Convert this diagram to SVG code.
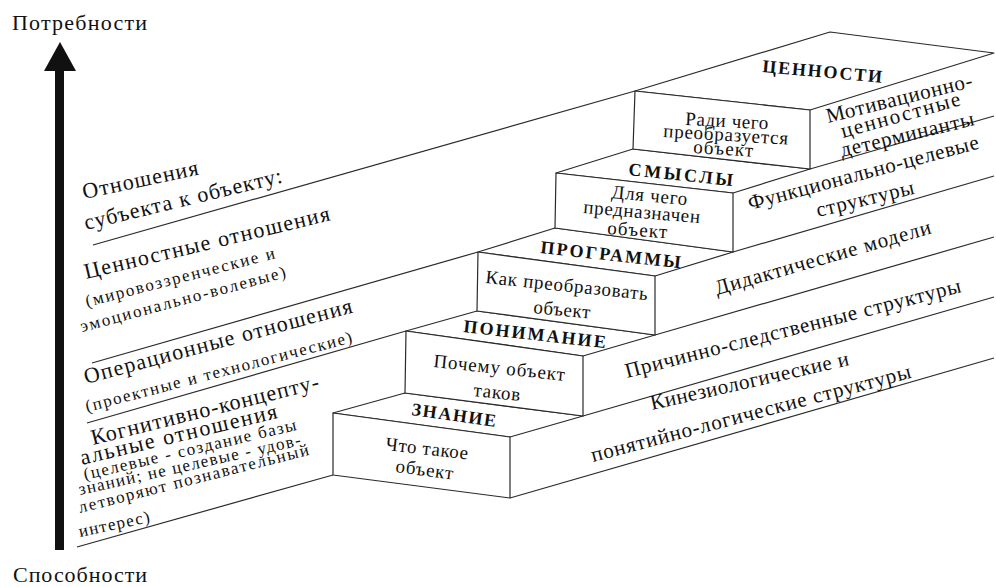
<svg xmlns="http://www.w3.org/2000/svg" width="996" height="587" viewBox="0 0 996 587" font-family="'Liberation Serif', 'Times New Roman', serif">
<style>
  .ln { stroke: #2a2a2a; stroke-width: 1.2; fill: none; }
  .face { stroke: #2a2a2a; stroke-width: 1.2; fill: #ffffff; stroke-linejoin: round; }
  .t { font-family: 'Liberation Serif', 'Times New Roman', serif; fill: #111111; }
  .big { font-size: 22px; }
  .small { font-size: 17px; }
  .rt { font-size: 21px; }
  .body { font-size: 19px; }
  .title { font-size: 18px; font-weight: bold; }
  .axis { font-size: 22px; }
</style>
<rect width="996" height="587" fill="#ffffff"/>

<g id="axis">
  <rect x="55" y="68" width="9" height="482" fill="#111"/>
  <polygon points="60,42 76,71 44,71" fill="#111"/>
  <text class="t axis" x="12" y="30" textLength="135" lengthAdjust="spacing">Потребности</text>
  <text class="t axis" x="13" y="582" textLength="134" lengthAdjust="spacing">Способности</text>
</g>

<g id="connectors">
  <line class="ln" x1="93" y1="245" x2="635" y2="91"/>
  <line class="ln" x1="92" y1="363" x2="478" y2="252"/>
  <line class="ln" x1="87" y1="423" x2="406" y2="331"/>
  <line class="ln" x1="77" y1="547" x2="333" y2="475"/>
  <line class="ln" x1="810" y1="169" x2="994" y2="116"/>
  <line class="ln" x1="733" y1="252" x2="994" y2="176"/>
  <line class="ln" x1="655" y1="335" x2="994" y2="237"/>
  <line class="ln" x1="583" y1="416" x2="994" y2="297"/>
  <line class="ln" x1="510" y1="498" x2="994" y2="358"/>
</g>

<g id="step-znanie">
  <polygon class="face" points="333,413 405,393 583,416 510,437"/>
  <polygon class="face" points="333,413 510,437 510,498 333,475"/>
  <text class="t title" transform="translate(411,415) rotate(8)" textLength="85" lengthAdjust="spacing">ЗНАНИЕ</text>
  <text class="t body" transform="translate(385,450) rotate(6.5)" textLength="83" lengthAdjust="spacing">Что такое</text>
  <text class="t body" transform="translate(395,472) rotate(7.5)" textLength="58" lengthAdjust="spacing">объект</text>
</g>

<g id="step-ponimanie">
  <polygon class="face" points="406,331 477,311 655,335 583,356"/>
  <polygon class="face" points="406,331 583,356 583,416 405,393"/>
  <text class="t title" transform="translate(463,332) rotate(6.5)" textLength="143" lengthAdjust="spacing">ПОНИМАНИЕ</text>
  <text class="t body" transform="translate(433,367) rotate(6)" textLength="132" lengthAdjust="spacing">Почему объект</text>
  <text class="t body" transform="translate(473,396) rotate(6)" textLength="47" lengthAdjust="spacing">таков</text>
</g>

<g id="step-programmy">
  <polygon class="face" points="478,252 555,228 733,252 655,276"/>
  <polygon class="face" points="478,252 655,276 655,335 477,311"/>
  <text class="t title" transform="translate(540,253) rotate(6.2)" textLength="141" lengthAdjust="spacing">ПРОГРАММЫ</text>
  <text class="t body" transform="translate(485,283) rotate(6)" textLength="163" lengthAdjust="spacing">Как преобразовать</text>
  <text class="t body" transform="translate(533,313) rotate(5.5)" textLength="57" lengthAdjust="spacing">объект</text>
</g>

<g id="step-smysly">
  <polygon class="face" points="556,173 633,149 810,169 733,193"/>
  <polygon class="face" points="556,173 733,193 733,252 555,228"/>
  <text class="t title" transform="translate(628,175) rotate(6)" textLength="105" lengthAdjust="spacing">СМЫСЛЫ</text>
  <text class="t body" transform="translate(611,198) rotate(5.5)" textLength="76" lengthAdjust="spacing">Для чего</text>
  <text class="t body" transform="translate(583,213) rotate(5)" textLength="117" lengthAdjust="spacing">предназначен</text>
  <text class="t body" transform="translate(607,234) rotate(4)" textLength="60" lengthAdjust="spacing">объект</text>
</g>

<g id="step-cennosti">
  <polygon class="face" points="635,91 830,32 994,53 810,110"/>
  <polygon class="face" points="635,91 810,110 810,169 633,149"/>
  <text class="t title" transform="translate(762,72) rotate(5.2)" textLength="120" lengthAdjust="spacing">ЦЕННОСТИ</text>
  <text class="t body" transform="translate(685,125) rotate(3)" textLength="83" lengthAdjust="spacing">Ради чего</text>
  <text class="t body" transform="translate(663,137) rotate(3.5)" textLength="125" lengthAdjust="spacing">преобразуется</text>
  <text class="t body" transform="translate(693,153) rotate(3.5)" textLength="60" lengthAdjust="spacing">объект</text>
</g>

<g id="left-labels">
  <text class="t big" transform="translate(84,199) rotate(-12)" textLength="118" lengthAdjust="spacing">Отношения</text>
  <text class="t big" transform="translate(86,230) rotate(-13.6)" textLength="203" lengthAdjust="spacing">субъекта к объекту:</text>
  <text class="t big" transform="translate(86,279) rotate(-13.5)" textLength="252" lengthAdjust="spacing">Ценностные отношения</text>
  <text class="t small" transform="translate(87,307) rotate(-14.5)" textLength="195" lengthAdjust="spacing">(мировоззренческие и</text>
  <text class="t small" transform="translate(82,332) rotate(-15)" textLength="212" lengthAdjust="spacing">эмоционально-волевые)</text>
  <text class="t big" transform="translate(86,384) rotate(-15)" textLength="277" lengthAdjust="spacing">Операционные отношения</text>
  <text class="t small" transform="translate(87,412) rotate(-14.7)" textLength="275" lengthAdjust="spacing">(проектные и технологические)</text>
  <text class="t big" transform="translate(93,445) rotate(-14)" textLength="234" lengthAdjust="spacing">Когнитивно-концепту-</text>
  <text class="t big" transform="translate(82,465) rotate(-13.5)" textLength="202" lengthAdjust="spacing">альные отношения</text>
  <text class="t small" transform="translate(85,480) rotate(-13.3)" textLength="218" lengthAdjust="spacing">(целевые - создание базы</text>
  <text class="t small" transform="translate(80,495) rotate(-12.7)" textLength="227" lengthAdjust="spacing">знаний; не целевые - удов-</text>
  <text class="t small" transform="translate(80,513) rotate(-14.2)" textLength="237" lengthAdjust="spacing">летворяют познавательный</text>
  <text class="t small" transform="translate(80,537) rotate(-12)" textLength="72" lengthAdjust="spacing">интерес)</text>
</g>

<g id="right-labels">
  <text class="t rt" transform="translate(828,123) rotate(-14)" textLength="150" lengthAdjust="spacing">Мотивационно-</text>
  <text class="t rt" transform="translate(843,138) rotate(-15.5)" textLength="123" lengthAdjust="spacing">ценностные</text>
  <text class="t rt" transform="translate(842,157) rotate(-13.5)" textLength="137" lengthAdjust="spacing">детерминанты</text>
  <text class="t rt" transform="translate(750,210) rotate(-15)" textLength="238" lengthAdjust="spacing">Функционально-целевые</text>
  <text class="t rt" transform="translate(818,217) rotate(-13.5)" textLength="100" lengthAdjust="spacing">структуры</text>
  <text class="t rt" transform="translate(717,295) rotate(-16)" textLength="224" lengthAdjust="spacing">Дидактические модели</text>
  <text class="t rt" transform="translate(627,378) rotate(-14.4)" textLength="346" lengthAdjust="spacing">Причинно-следственные структуры</text>
  <text class="t rt" transform="translate(652,410) rotate(-12.8)" textLength="203" lengthAdjust="spacing">Кинезиологические и</text>
  <text class="t rt" transform="translate(593,462) rotate(-14.8)" textLength="330" lengthAdjust="spacing">понятийно-логические структуры</text>
</g>
</svg>
